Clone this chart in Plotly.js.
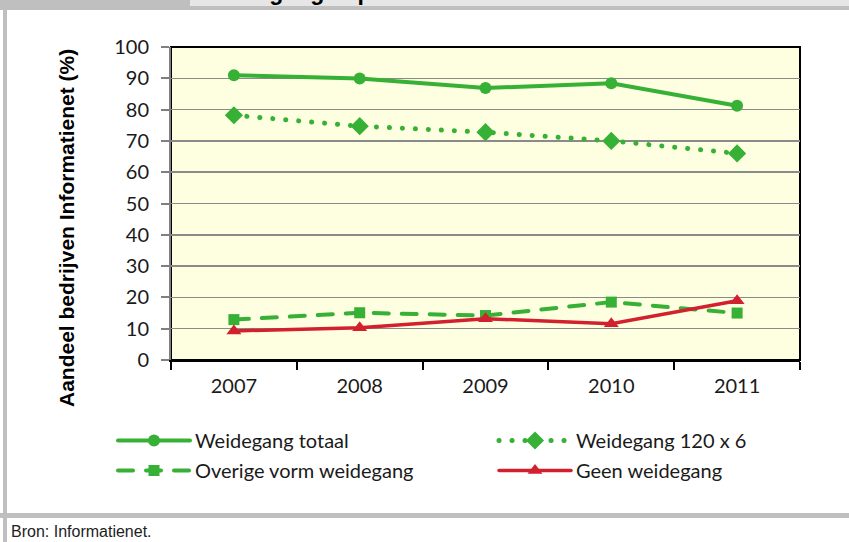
<!DOCTYPE html>
<html>
<head>
<meta charset="utf-8">
<script src="https://cdn.plot.ly/plotly-3.0.1.min.js"></script>
<style>
html,body{margin:0;padding:0;background:#fff;}
#chart{width:849px;height:542px;}
.scatterlayer .js-line, .legendlines path { stroke-linecap: round; }
</style>
</head>
<body>
<div id="chart"></div>
<script>
// ---- data ----
const years = ["2007", "2008", "2009", "2010", "2011"];
const weidegangTotaal = [91.0, 89.9, 86.9, 88.4, 81.2];
const weidegang120x6 = [78.2, 74.7, 72.8, 70.0, 66.0];
const overigeVorm = [12.9, 15.1, 14.2, 18.5, 15.0];
const geenWeidegang = [9.3, 10.3, 13.2, 11.6, 18.9];
const seriesNames = ["Weidegang totaal", "Weidegang 120 x 6", "Overige vorm weidegang", "Geen weidegang"];
const yTicks = [0, 10, 20, 30, 40, 50, 60, 70, 80, 90, 100];

// ---- layout helpers (pixel -> paper) ----
const W = 849, H = 542;
const M = {l: 171, r: 49, t: 47, b: 182};
const PW = W - M.l - M.r, PH = H - M.t - M.b;
const px = x => (x - M.l) / PW;
const py = y => (H - M.b - y) / PH;

const green = "#37b036";
const red = "#d2202f";
const tickFont = {family: "Lato, 'Open Sans', sans-serif", size: 20, color: "#1a1a1a"};
const legFont = {family: "Lato, 'Open Sans', sans-serif", size: 20, color: "#1a1a1a"};

const traces = [
  {x: years, y: weidegangTotaal, name: seriesNames[0], type: "scatter", mode: "lines+markers",
   line: {color: green, width: 4}, marker: {symbol: "circle", size: 12, color: green},
   legend: "legend", legendgroup: "a"},
  {x: years, y: weidegang120x6, name: seriesNames[1], type: "scatter", mode: "lines+markers",
   line: {color: green, width: 5, dash: "0.1px,12.9px"}, marker: {symbol: "diamond", size: 14, color: green},
   legend: "legend2", legendgroup: "b"},
  {x: years, y: overigeVorm, name: seriesNames[2], type: "scatter", mode: "lines+markers",
   line: {color: green, width: 4, dash: "15px,13px"}, marker: {symbol: "square", size: 11, color: green},
   legend: "legend", legendgroup: "c"},
  {x: years, y: geenWeidegang, name: seriesNames[3], type: "scatter", mode: "lines+markers",
   line: {color: red, width: 3.5}, marker: {symbol: "triangle-up", size: 13, color: red},
   legend: "legend2", legendgroup: "d"}
];

const frame = "#bfbfbf";
const shapes = [
  {type: "rect", xref: "paper", yref: "paper", x0: px(0), x1: px(190), y0: py(0), y1: py(6), fillcolor: frame, line: {width: 0}, layer: "above"},
  {type: "rect", xref: "paper", yref: "paper", x0: px(190), x1: px(849), y0: py(0), y1: py(6), fillcolor: "#e6e6e6", line: {width: 0}, layer: "below"},
  {type: "rect", xref: "paper", yref: "paper", x0: px(0), x1: px(849), y0: py(6), y1: py(10), fillcolor: frame, line: {width: 0}, layer: "above"},
  {type: "rect", xref: "paper", yref: "paper", x0: px(3), x1: px(7), y0: py(6), y1: py(542), fillcolor: frame, line: {width: 0}, layer: "above"},
  {type: "rect", xref: "paper", yref: "paper", x0: px(0), x1: px(849), y0: py(513), y1: py(518), fillcolor: frame, line: {width: 0}, layer: "above"},
  {type: "rect", xref: "paper", yref: "paper", x0: 0, x1: 1, y0: 0, y1: 1, line: {color: "#000", width: 2}, layer: "below"}
];

const annotations = [
  {text: "Weidegang in perioden", xref: "paper", yref: "paper", x: px(200), y: py(7), xanchor: "left", yanchor: "bottom",
   showarrow: false, font: {family: "'Liberation Sans', Arial, sans-serif", size: 23, color: "#000", weight: "bold"}},
  {text: "<b>Aandeel bedrijven Informatienet (%)</b>", xref: "paper", yref: "paper", x: px(66), y: py(228), textangle: -90,
   xanchor: "center", yanchor: "middle", showarrow: false,
   font: {family: "'Liberation Sans', Arial, sans-serif", size: 21, color: "#000"}},
  {text: "Bron: Informatienet.", xref: "paper", yref: "paper", x: px(9), y: py(531), xanchor: "left", yanchor: "middle",
   showarrow: false, font: {family: "'Liberation Sans', Arial, sans-serif", size: 16, color: "#222"}}
];

const layout = {
  width: W, height: H,
  margin: M,
  paper_bgcolor: "#ffffff",
  plot_bgcolor: "#fefee0",
  showlegend: true,
  xaxis: {type: "category", categoryorder: "array", categoryarray: years, range: [-0.5, 4.5],
    tickson: "boundaries", ticks: "outside", ticklen: 8, tickwidth: 2, tickcolor: "#000",
    showline: true, linecolor: "#000", linewidth: 2, showgrid: false, zeroline: false,
    tickfont: tickFont, ticklabelstandoff: 7, fixedrange: true},
  yaxis: {range: [0, 100], tickvals: yTicks, ticks: "outside", ticklen: 8, tickwidth: 2, tickcolor: "#808080",
    showline: true, linecolor: "#808080", linewidth: 2, showgrid: true, gridcolor: "#8a8a8a", gridwidth: 1.5,
    zeroline: false, tickfont: tickFont, ticklabelstandoff: 8, fixedrange: true},
  legend: {x: px(113), y: py(421), xanchor: "left", yanchor: "top", orientation: "v", bgcolor: "rgba(0,0,0,0)",
    font: legFont, itemwidth: 72, tracegroupgap: 1, itemclick: false},
  legend2: {x: px(494), y: py(421), xanchor: "left", yanchor: "top", orientation: "v", bgcolor: "rgba(0,0,0,0)",
    font: legFont, itemwidth: 72, tracegroupgap: 1, itemclick: false},
  shapes: shapes,
  annotations: annotations
};

Plotly.newPlot("chart", traces, layout, {displayModeBar: false, staticPlot: true});
</script>
</body>
</html>
